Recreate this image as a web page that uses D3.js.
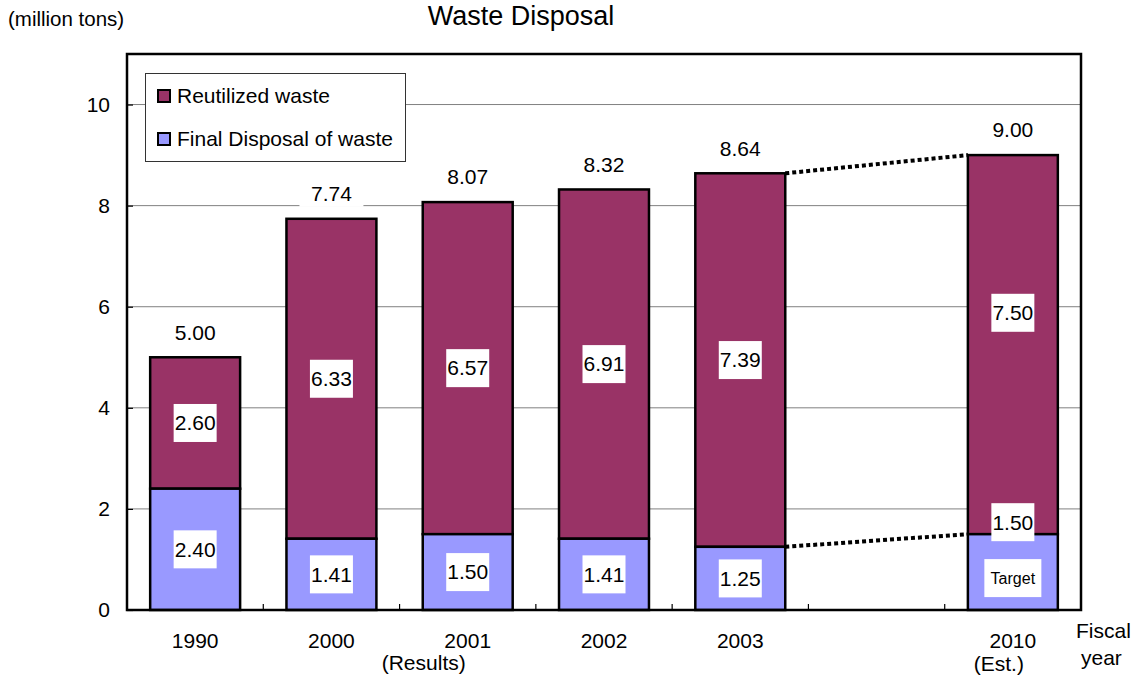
<!DOCTYPE html>
<html>
<head>
<meta charset="utf-8">
<script src="https://cdn.jsdelivr.net/npm/d3@7/dist/d3.min.js"></script>
<style>
  html, body { margin: 0; padding: 0; background: #fff; }
  svg { display: block; font-family: "Liberation Sans", Arial, sans-serif; }
</style>
</head>
<body>
<svg id="chart" width="1140" height="677"></svg>
<script>
// Fiscal years (the blank slot separates results from the 2010 estimate)
const years = ["1990", "2000", "2001", "2002", "2003", "", "2010"];
// Million tons
const finalDisposal = [2.40, 1.41, 1.50, 1.41, 1.25, null, 1.50];
const reutilized    = [2.60, 6.33, 6.57, 6.91, 7.39, null, 7.50];
const totals        = [5.00, 7.74, 8.07, 8.32, 8.64, null, 9.00];
const yTicks = [0, 2, 4, 6, 8, 10];
const seriesNames = ["Reutilized waste", "Final Disposal of waste"];
const targetIndex = 6;

const colors = { reutil: "#993366", final: "#9999ff" };

const svg = d3.select("#chart");
const plot = { left: 127, right: 1081, top: 54, bottom: 610 };

const x = d3.scaleBand()
  .domain(d3.range(years.length))
  .range([plot.left, plot.right])
  .paddingInner(0.34)
  .paddingOuter(0.17);

const y = d3.scaleLinear().domain([0, 11]).range([plot.bottom, plot.top]);

// Title and unit
svg.append("text").attr("x", 521).attr("y", 25).attr("text-anchor", "middle")
  .attr("font-size", 27).text("Waste Disposal");
svg.append("text").attr("x", 8).attr("y", 26).attr("font-size", 20.5)
  .text("(million tons)");

// Gridlines
svg.append("g").selectAll("line").data(yTicks.filter(d => d > 0)).join("line")
  .attr("x1", plot.left).attr("x2", plot.right)
  .attr("y1", d => y(d)).attr("y2", d => y(d))
  .attr("stroke", "#808080").attr("stroke-width", 1);

// Y axis
const yAxis = d3.axisLeft(y).tickValues(yTicks).tickSize(-6).tickPadding(17)
  .tickFormat(d3.format("d"));
const gy = svg.append("g").attr("transform", `translate(${plot.left},0)`).call(yAxis);
gy.select(".domain").remove();
gy.selectAll(".tick line").attr("stroke", "#000").attr("stroke-width", 1.2);
gy.selectAll(".tick text").attr("font-size", 21).attr("fill", "#000")
  .attr("font-family", "Liberation Sans, Arial, sans-serif");

// X axis ticks between categories
const boundaries = d3.range(1, years.length).map(i => x(i) - x.step() * x.paddingInner() / 2);
svg.append("g").selectAll("line").data(boundaries).join("line")
  .attr("x1", d => d).attr("x2", d => d)
  .attr("y1", plot.bottom).attr("y2", plot.bottom - 6)
  .attr("stroke", "#000").attr("stroke-width", 1.2);

// Category labels
const catG = svg.append("g").attr("font-size", 21).attr("text-anchor", "middle");
catG.selectAll("text").data(years.map((d, i) => ({ d, i })).filter(o => o.d)).join("text")
  .attr("x", o => x(o.i) + x.bandwidth() / 2)
  .attr("y", 648)
  .text(o => o.d);
catG.append("text").attr("x", x(2) + x.bandwidth() / 2 - 44).attr("y", 670).text("(Results)");
catG.append("text").attr("x", x(targetIndex) + x.bandwidth() / 2 - 14).attr("y", 671).text("(Est.)");
svg.append("text").attr("x", 1076).attr("y", 638).attr("font-size", 21).text("Fiscal");
svg.append("text").attr("x", 1081).attr("y", 665).attr("font-size", 21).text("year");

// Total labels with white background
const totalG = svg.append("g");
years.forEach((yr, i) => {
  if (totals[i] == null) return;
  const cx = x(i) + x.bandwidth() / 2;
  const cy = y(totals[i]) - 25;
  totalG.append("rect").attr("x", cx - 32).attr("y", cy - 13).attr("width", 64).attr("height", 26)
    .attr("fill", "#fff");
  totalG.append("text").attr("x", cx).attr("y", cy).attr("dy", "0.35em")
    .attr("text-anchor", "middle").attr("font-size", 21).text(totals[i].toFixed(2));
});

// Dotted trend lines from 2003 to the 2010 target
const last = 4;
const trend = svg.append("g").attr("stroke", "#000").attr("stroke-width", 4)
  .attr("stroke-dasharray", "4,3").attr("fill", "none");
[totals, finalDisposal].forEach(arr => {
  trend.append("line")
    .attr("x1", x(last) + x.bandwidth()).attr("y1", y(arr[last]))
    .attr("x2", x(targetIndex)).attr("y2", y(arr[targetIndex]));
});

// Stacked bars
const barG = svg.append("g").attr("stroke", "#000").attr("stroke-width", 2.5);
years.forEach((yr, i) => {
  if (finalDisposal[i] == null) return;
  const f = finalDisposal[i], r = reutilized[i];
  barG.append("rect").attr("x", x(i)).attr("width", x.bandwidth())
    .attr("y", y(f + r)).attr("height", y(f) - y(f + r)).attr("fill", colors.reutil);
  barG.append("rect").attr("x", x(i)).attr("width", x.bandwidth())
    .attr("y", y(f)).attr("height", y(0) - y(f)).attr("fill", colors.final);
});

// Segment value labels in white boxes
function boxLabel(cx, cy, text, w, fs) {
  const g = svg.append("g");
  g.append("rect").attr("x", cx - w / 2).attr("y", cy - 19).attr("width", w).attr("height", 38)
    .attr("fill", "#fff");
  g.append("text").attr("x", cx).attr("y", cy).attr("dy", "0.35em").attr("text-anchor", "middle")
    .attr("font-size", fs).text(text);
}
years.forEach((yr, i) => {
  if (finalDisposal[i] == null) return;
  const f = finalDisposal[i], r = reutilized[i];
  const cx = x(i) + x.bandwidth() / 2;
  if (i === targetIndex) {
    boxLabel(cx, y(5.88), r.toFixed(2), 43, 21);
    boxLabel(cx, y(f) - 12, f.toFixed(2), 43, 21);
    boxLabel(cx, y(f / 2) + 6, "Target", 57, 16);
  } else {
    boxLabel(cx, y(f + r / 2), r.toFixed(2), 43, 21);
    boxLabel(cx, y(f / 2), f.toFixed(2), 43, 21);
  }
});

// Plot frame
svg.append("rect").attr("x", plot.left).attr("y", plot.top)
  .attr("width", plot.right - plot.left).attr("height", plot.bottom - plot.top)
  .attr("fill", "none").attr("stroke", "#000").attr("stroke-width", 2.5);

// Legend
const lg = svg.append("g");
lg.append("rect").attr("x", 145.5).attr("y", 73.5).attr("width", 260).attr("height", 88)
  .attr("fill", "#fff").attr("stroke", "#333").attr("stroke-width", 1);
[colors.reutil, colors.final].forEach((c, k) => {
  const yy = 89 + k * 43;
  lg.append("rect").attr("x", 158).attr("y", yy + 1).attr("width", 12).attr("height", 12)
    .attr("fill", c).attr("stroke", "#000").attr("stroke-width", 2);
  lg.append("text").attr("x", 177).attr("y", yy + 14).attr("font-size", 21).text(seriesNames[k]);
});
</script>
</body>
</html>
